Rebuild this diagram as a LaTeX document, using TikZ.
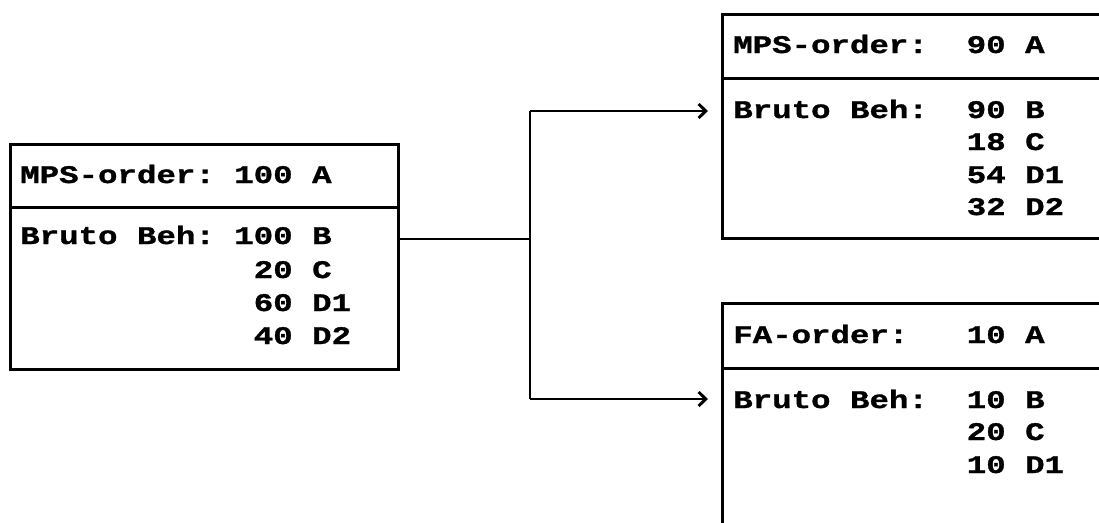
\documentclass[tikz,border=0pt]{standalone}
\usepackage{fontspec}
\newfontfamily\boxfont{Liberation Mono}[FakeStretch=1.28,FakeBold=1.2]
\usetikzlibrary{arrows.meta}
\frenchspacing
\tikzset{
  frame/.style={draw, line width=2.1pt, rectangle, inner sep=0pt, anchor=north west},
  txt/.style={anchor=base west, inner sep=0pt,
    font=\boxfont\bfseries\fontsize{19}{24.5}\selectfont},
  wire/.style={line width=1.7pt},
  tip/.style={-{Straight Barb[length=5.5pt,width=10.5pt,line width=2.2pt]}}
}
\begin{document}
\begin{tikzpicture}[x=0.75pt,y=-0.75pt]
\useasboundingbox (0,0) rectangle (1099,522);
\clip (0,0) rectangle (1099,522);
% left box
\node[frame, minimum width=291pt, minimum height=47.25pt] (lhead) at (9,143) {};
\node[frame, minimum width=291pt, minimum height=121.5pt] (lbody) at (9,206) {};
\node[txt] (lht) at (20,183) {MPS-order:~100~A};
\node[txt] (lb1) at (20,244) {Bruto Beh:~100~B};
\node[txt] (lb2) at (20,278) {~~~~~~~~~~~~20~C};
\node[txt] (lb3) at (20,311) {~~~~~~~~~~~~60~D1};
\node[txt] (lb4) at (20,344) {~~~~~~~~~~~~40~D2};
% top right box
\node[frame, minimum width=300pt, minimum height=48pt] (thead) at (721,13) {};
\node[frame, minimum width=300pt, minimum height=120pt] (tbody) at (721,77) {};
\node[txt] (tht) at (733,53) {MPS-order:~~90~A};
\node[txt] (tb1) at (733,118) {Bruto Beh:~~90~B};
\node[txt] (tb2) at (733,150) {~~~~~~~~~~~~18~C};
\node[txt] (tb3) at (733,183) {~~~~~~~~~~~~54~D1};
\node[txt] (tb4) at (733,215) {~~~~~~~~~~~~32~D2};
% bottom right box
\node[frame, minimum width=300pt, minimum height=48.75pt] (bhead) at (721,302) {};
\node[frame, minimum width=300pt, minimum height=127.5pt] (bbody) at (721,367) {};
\node[txt] (bht) at (733,343) {FA-order:~~~10~A};
\node[txt] (bb1) at (733,408) {Bruto Beh:~~10~B};
\node[txt] (bb2) at (733,440) {~~~~~~~~~~~~20~C};
\node[txt] (bb3) at (733,473) {~~~~~~~~~~~~10~D1};
% connectors
\coordinate (j) at (530,239);
\coordinate (jt) at (530,111);
\coordinate (jb) at (530,399);
\draw[wire] (lbody.north east |- j) -- (j);
\draw[wire] (jt) -- (jb);
\draw[wire, tip, shorten >=9.75pt] (jt) -- (tbody.west |- jt);
\draw[wire, tip, shorten >=9.75pt] (jb) -- (bbody.west |- jb);
\end{tikzpicture}
\end{document}
